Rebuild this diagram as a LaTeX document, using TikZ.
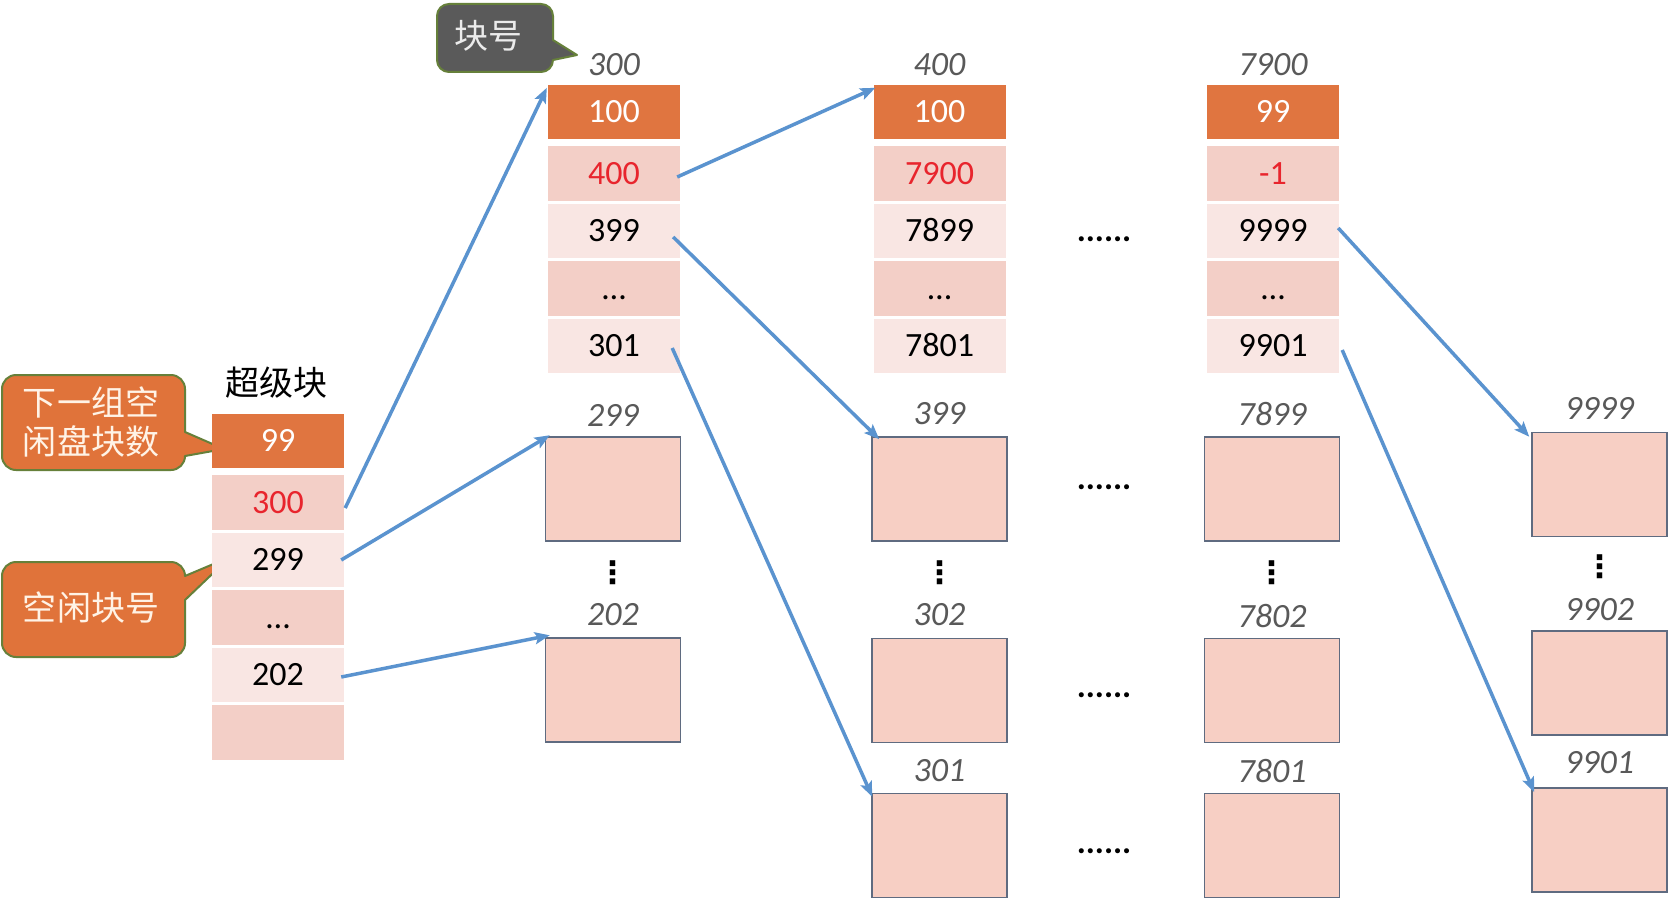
\documentclass[tikz,border=0pt]{standalone}
\usepackage{fontspec}
\setmainfont{Carlito}
\newfontfamily\cjkf{Noto Sans CJK SC}
\newfontfamily\dejavu{DejaVu Sans}
\usetikzlibrary{arrows.meta}
\definecolor{hdrorange}{HTML}{E07540}
\definecolor{rowdark}{HTML}{F3CFC7}
\definecolor{rowlight}{HTML}{F9E6E3}
\definecolor{boxfill}{HTML}{F7CFC4}
\definecolor{boxline}{HTML}{5F6B80}
\definecolor{arrblue}{HTML}{5A93CF}
\definecolor{callorange}{HTML}{E0733A}
\definecolor{callborder}{HTML}{66803A}
\definecolor{calldark}{HTML}{5A5A5A}
\definecolor{labelgray}{HTML}{595959}
\definecolor{numred}{HTML}{E8252D}
\definecolor{calltext}{HTML}{FFF3E6}
\newcommand\cellsize{\fontsize{34}{40}\selectfont}
\newcommand\cjksize{\fontsize{34}{39}\selectfont}
\begin{document}
\begin{tikzpicture}[x=1pt,y=-1pt,
  cell/.style={minimum width=132pt, minimum height=54.5pt, inner sep=0pt,
    font=\cellsize, text height=21.5pt, text depth=0pt, text=black},
  hdr/.style={cell, fill=hdrorange, minimum height=54pt, text=white},
  rdark/.style={cell, fill=rowdark},
  rlight/.style={cell, fill=rowlight},
  redtxt/.style={text=numred},
  blk/.style={draw=boxline, line width=1.5pt, fill=boxfill, minimum width=135pt,
    minimum height=104pt, inner sep=0pt},
  lbl/.style={font=\cellsize\itshape, text=labelgray, inner sep=0pt},
  hdots/.style={font=\cellsize\bfseries, inner sep=0pt},
  vdotsn/.style={font=\dejavu\bfseries\fontsize{31}{34}\selectfont, inner sep=0pt},
  arr/.style={draw=arrblue, line width=3.5pt,
    -{Stealth[length=15pt, width=12pt, inset=3pt]}},
  callO/.style={fill=callorange, draw=callborder, line width=2pt, line join=round},
  callD/.style={fill=calldark, draw=callborder, line width=2pt, line join=round},
  ctext/.style={font=\cjkf\cjksize, align=center, inner sep=0pt}
]
\useasboundingbox (0,0) rectangle (1669,915);
\fill[white] (0,0) rectangle (1669,915);

% ---------- callouts ----------
\draw[callO] (16,375) -- (171,375) .. controls (178.73,375) and (185,381.27) .. (185,389)
  -- (185,432) -- (224,449) -- (185,456)
  .. controls (185,463.73) and (178.73,470) .. (171,470) -- (16,470)
  .. controls (8.27,470) and (2,463.73) .. (2,456) -- (2,389)
  .. controls (2,381.27) and (8.27,375) .. (16,375) -- cycle;
\node[ctext, text=calltext] (k1) at (91,422) {下一组空\\闲盘块数};

\draw[callO] (16,562) -- (171,562) .. controls (178.73,562) and (185,568.27) .. (185,576)
  -- (230,557) -- (185,600) -- (185,643)
  .. controls (185,650.73) and (178.73,657) .. (171,657) -- (16,657)
  .. controls (8.27,657) and (2,650.73) .. (2,643) -- (2,576)
  .. controls (2,568.27) and (8.27,562) .. (16,562) -- cycle;
\node[ctext, text=calltext] (k2) at (91,608) {空闲块号};

\draw[callD] (449,4) -- (541,4) .. controls (547.62,4) and (553,9.38) .. (553,16)
  -- (553,40) -- (577,55) -- (553,60)
  .. controls (553,66.62) and (547.62,72) .. (541,72) -- (449,72)
  .. controls (442.38,72) and (437,66.62) .. (437,60) -- (437,16)
  .. controls (437,9.38) and (442.38,4) .. (449,4) -- cycle;
\node[ctext, text=white!92!black] (k3) at (488,36) {块号};

% ---------- super block ----------
\node[ctext, text=black] (stitle) at (276,383) {超级块};
\node[hdr] (sh) at (278,441) {99};
\node[rdark, redtxt] (s1) at (278,502.5) {300};
\node[rlight] (s2) at (278,560) {299};
\node[rdark] (s3) at (278,617.5) {…};
\node[rlight] (s4) at (278,675) {202};
\node[rdark] (s5) at (278,732.5) {};

% ---------- block 300 ----------
\node[lbl] (l300) at (614,65) {300};
\node[hdr] (ah) at (614,112) {100};
\node[rdark, redtxt] (a1) at (614,173.5) {400};
\node[rlight] (a2) at (614,231) {399};
\node[rdark] (a3) at (614,288.5) {…};
\node[rlight] (a4) at (614,346) {301};

% ---------- block 400 ----------
\node[lbl] (l400) at (939.5,65) {400};
\node[hdr] (bh) at (939.5,112) {100};
\node[rdark, redtxt] (b1) at (939.5,173.5) {7900};
\node[rlight] (b2) at (939.5,231) {7899};
\node[rdark] (b3) at (939.5,288.5) {…};
\node[rlight] (b4) at (939.5,346) {7801};

% ---------- block 7900 ----------
\node[lbl] (l7900) at (1273,65) {7900};
\node[hdr] (ch) at (1273,112) {99};
\node[rdark, redtxt] (c1) at (1273,173.5) {-1};
\node[rlight] (c2) at (1273,231) {9999};
\node[rdark] (c3) at (1273,288.5) {…};
\node[rlight] (c4) at (1273,346) {9901};

% ---------- free blocks, column 1 ----------
\node[lbl] (lp1) at (613,415) {299};
\node[blk] (p1) at (613,489) {};
\node[vdotsn] (vp) at (613,573) {⋮};
\node[lbl] (lp2) at (613,615) {202};
\node[blk] (p2) at (613,690) {};

% ---------- free blocks, column 2 ----------
\node[lbl] (lq1) at (939.5,414) {399};
\node[blk] (q1) at (939.5,489) {};
\node[vdotsn] (vq) at (939.5,573) {⋮};
\node[lbl] (lq2) at (939.5,615) {302};
\node[blk] (q2) at (939.5,690.5) {};
\node[lbl] (lq3) at (939.5,771) {301};
\node[blk] (q3) at (939.5,845.5) {};

% ---------- free blocks, column 3 ----------
\node[lbl] (lr1) at (1272,414) {7899};
\node[blk] (r1) at (1272,489) {};
\node[vdotsn] (vr) at (1272,573) {⋮};
\node[lbl] (lr2) at (1272,616) {7802};
\node[blk] (r2) at (1272,690.5) {};
\node[lbl] (lr3) at (1272,771) {7801};
\node[blk] (r3) at (1272,845.5) {};

% ---------- free blocks, column 4 ----------
\node[lbl] (lw1) at (1599.5,408) {9999};
\node[blk] (w1) at (1599.5,484.5) {};
\node[vdotsn] (vw) at (1599.5,567) {⋮};
\node[lbl] (lw2) at (1599.5,610) {9902};
\node[blk] (w2) at (1599.5,683) {};
\node[lbl] (lw3) at (1599.5,763) {9901};
\node[blk] (w3) at (1599.5,840) {};

% ---------- horizontal ellipses ----------
\node[hdots] (e1) at (1104,239) {......};
\node[hdots] (e2) at (1104,487) {......};
\node[hdots] (e3) at (1104,695) {......};
\node[hdots] (e4) at (1104,851) {......};

% ---------- arrows ----------
\draw[arr] ([xshift=1pt,yshift=-5.5pt]s1.east) -- ([xshift=-1pt,yshift=-3pt]ah.north west);
\draw[arr] ([xshift=-3pt]s2.east) -- ([xshift=5pt,yshift=1pt]p1.north west);
\draw[arr] ([xshift=-3pt,yshift=-2pt]s4.east) -- ([xshift=5pt,yshift=2pt]p2.north west);
\draw[arr] ([xshift=-3pt,yshift=-3.5pt]a1.east) -- ([xshift=2pt,yshift=-3pt]bh.north west);
\draw[arr] ([xshift=-7pt,yshift=-6pt]a2.east) -- ([xshift=8pt,yshift=-3pt]q1.north west);
\draw[arr] ([xshift=-8pt,yshift=-2pt]a4.east) -- ([xshift=1pt,yshift=-4pt]q3.north west);
\draw[arr] ([xshift=-1pt,yshift=3pt]c2.east) -- ([xshift=-2pt,yshift=-5pt]w1.north west);
\draw[arr] ([xshift=3pt,yshift=-4pt]c4.east) -- ([xshift=3pt,yshift=-5pt]w3.north west);
\end{tikzpicture}
\end{document}
